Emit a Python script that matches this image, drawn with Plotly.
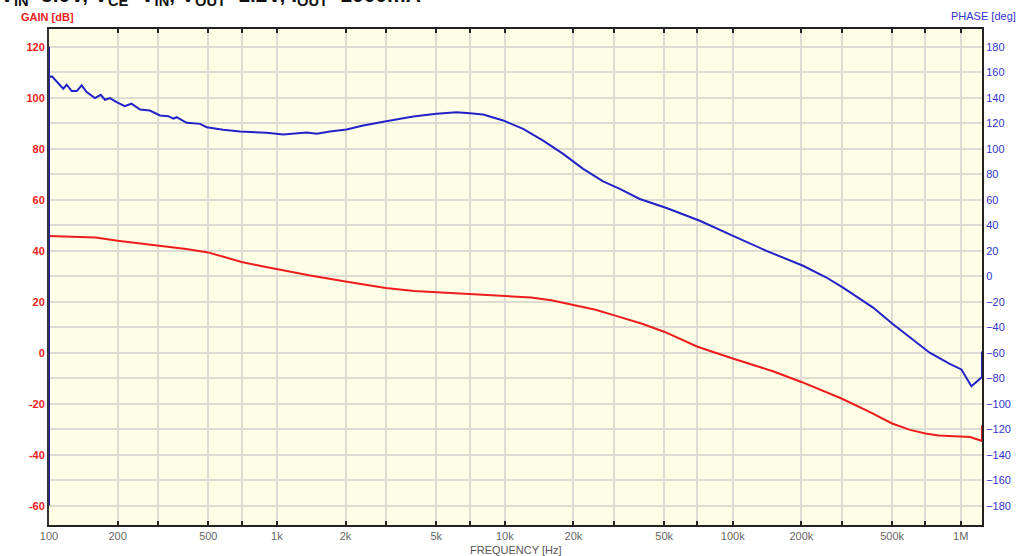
import plotly.graph_objects as go

# ---- data ----
gain_freq = [100, 130, 160, 200, 250, 300, 400, 500, 600, 700, 850, 1000, 1400, 2000, 3000,
             4000, 5000, 7000, 10000, 13000, 16000, 20000, 25000, 30000, 40000, 50000,
             70000, 100000, 150000, 200000, 300000, 400000, 500000, 600000, 700000,
             800000, 900000, 1000000, 1100000, 1150000, 1240000, 1240000]
gain_db = [45.8, 45.6, 45.2, 44.0, 43.0, 41.9, 40.7, 39.4, 37.3, 35.6, 34.1, 32.8, 30.3,
           28.0, 25.4, 24.3, 23.8, 23.0, 22.4, 21.7, 20.6, 18.8, 16.9, 14.8, 11.4, 8.3,
           2.4, -2.2, -7.2, -11.4, -17.9, -23.2, -27.7, -30.2, -31.6, -32.4, -32.6, -32.7,
           -33.0, -33.6, -34.5, -28.4]

phase_freq = [100, 100, 100, 103, 115.5, 119.6, 125.8, 132.3, 139.1, 146.3, 159.1, 168.6,
              176, 185, 198, 215, 230, 251, 277, 307, 334, 351, 363, 402, 460, 492,
              581, 688, 901, 1066, 1350, 1494, 1708, 2022, 2390, 2976, 3961, 5017,
              6141, 7022, 8031, 9829, 12030, 14720, 18020, 22050, 26990, 31940,
              39090, 51200, 71670, 100300, 140500, 203400, 257600, 304600, 412600,
              505000, 617800, 731100, 894800, 1007000, 1114000, 1211000, 1240000,
              1240000]
phase_deg = [-180, 180, 156.3, 156.8, 147.2, 150.3, 145.3, 145.3, 149.8, 144.5, 139.8, 142.4,
             138.5, 139.8, 136.6, 133.5, 135.4, 130.9, 130.1, 126.2, 125.6, 123.6, 124.8,
             120.4, 119.6, 117.0, 115.0, 113.6, 112.6, 111.2, 112.8, 111.8, 113.6, 115.2,
             118.3, 121.5, 125.4, 127.5, 128.8, 128.0, 127.0, 122.3, 115.7, 106.5, 96.1,
             84.3, 74.5, 68.6, 60.7, 53.6, 43.6, 31.8, 20.0, 8.3, -0.9, -8.8, -24.5,
             -37.6, -49.4, -59.9, -68.6, -73.0, -86.1, -80.8, -79.0, -59.0]

x_grid = [100, 200, 300, 500, 700, 1000, 2000, 3000, 5000, 7000, 10000, 20000, 30000,
          50000, 70000, 100000, 200000, 300000, 500000, 700000, 1000000]
x_text = ["100", "200", "", "500", "", "1k", "2k", "", "5k", "", "10k", "20k", "",
          "50k", "", "100k", "200k", "", "500k", "", "1M"]
gain_ticks = list(range(-60, 121, 10))
gain_text = [str(v) if v % 20 == 0 else "" for v in gain_ticks]
phase_ticks = list(range(-180, 181, 20))

title_text = "V<sub>IN</sub>=5.0V, V<sub>CE</sub>=V<sub>IN</sub>, V<sub>OUT</sub>=1.2V, I<sub>OUT</sub>=1000mA"

RED = "#ee1c1c"
BLUE = "#2222c8"
GRID = "#dcdcd2"
FONT = "Liberation Sans"

fig = go.Figure()
fig.add_trace(go.Scatter(x=gain_freq, y=gain_db, mode="lines",
                         line=dict(color=RED, width=2), yaxis="y", showlegend=False))
fig.add_trace(go.Scatter(x=phase_freq, y=phase_deg, mode="lines",
                         line=dict(color=BLUE, width=2), yaxis="y2", showlegend=False))

fig.update_layout(
    width=1021, height=556,
    margin=dict(l=49, r=39, t=29, b=31, autoexpand=False),
    paper_bgcolor="white",
    plot_bgcolor="#fefee6",
    font=dict(family=FONT, size=11, color="#555"),
    xaxis=dict(type="log", range=[2, 6.0934], tickvals=x_grid, ticktext=x_text,
               showgrid=True, gridcolor=GRID, gridwidth=1.5, automargin=False,
               showline=True, linecolor="#222", linewidth=2, mirror="ticks",
               ticks="inside", ticklen=4, tickcolor="#222", tickwidth=1.5,
               tickfont=dict(family=FONT, size=11, color="#666"),
               zeroline=False, layer="below traces"),
    yaxis=dict(range=[-67.5, 127], tickvals=gain_ticks, ticktext=gain_text,
               showgrid=True, gridcolor=GRID, gridwidth=1.5, automargin=False,
               showline=True, linecolor="#333", linewidth=2,
               ticks="", tickfont=dict(family=FONT, size=11, color=RED, weight="bold"),
               zeroline=False, layer="below traces"),
    yaxis2=dict(range=[-195, 194], tickvals=phase_ticks, overlaying="y", side="right",
                showgrid=False, showline=True, linecolor="#222", linewidth=2,
                automargin=False,
                ticks="", tickfont=dict(family=FONT, size=11, color="#3333cc"),
                zeroline=False, layer="below traces"),
    annotations=[
        dict(text="GAIN [dB]", xref="paper", yref="paper", x=0, y=1, xanchor="center",
             yanchor="middle", xshift=-2, yshift=12, showarrow=False,
             font=dict(family=FONT, size=11, color=RED, weight="bold")),
        dict(text="PHASE [deg]", xref="paper", yref="paper", x=1, y=1, xanchor="center",
             yanchor="middle", xshift=1, yshift=13, showarrow=False,
             font=dict(family=FONT, size=11, color="#3333cc")),
        dict(text="FREQUENCY [Hz]", xref="paper", yref="paper", x=0.5, y=0, xanchor="center",
             yanchor="middle", yshift=-25, showarrow=False,
             font=dict(family=FONT, size=11, color="#555")),
        dict(text=title_text, xref="paper", yref="paper", x=0, y=1, xanchor="left",
             yanchor="bottom", xshift=-51, yshift=18, showarrow=False,
             font=dict(family=FONT, size=21, color="#111", weight="bold")),
    ],
)

fig.write_html("out.html", config={"displayModeBar": False},
               post_script="document.body.style.margin='0';")
